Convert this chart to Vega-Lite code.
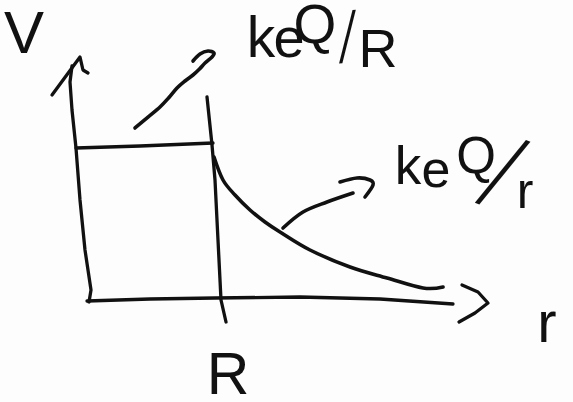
{
  "$schema": "https://vega.github.io/schema/vega-lite/v6.json",
  "description": "Potential V(r) of a charged conducting sphere of radius R: constant ke Q/R inside, falling as ke Q/r outside.",
  "width": 573,
  "height": 402,
  "autosize": "none",
  "padding": 0,
  "background": "#fdfdfd",
  "config": {"view": {"stroke": null}},
  "datasets": {
    "straight": [
      {"part": "v-axis", "i": 0, "r": 0.1, "V": -0.0129},
      {"part": "v-axis", "i": 1, "r": 0.1143, "V": 0.0645},
      {"part": "v-axis", "i": 2, "r": 0.0714, "V": 0.3226},
      {"part": "v-axis", "i": 3, "r": 0.0357, "V": 0.6452},
      {"part": "v-axis", "i": 4, "r": 0.0071, "V": 0.9806},
      {"part": "v-axis", "i": 5, "r": -0.0214, "V": 1.2258},
      {"part": "v-axis", "i": 6, "r": -0.0357, "V": 1.4065},
      {"part": "v-axis", "i": 7, "r": -0.0214, "V": 1.5097},
      {"part": "v-head", "i": 0, "r": -0.1643, "V": 1.3226},
      {"part": "v-head", "i": 1, "r": -0.0643, "V": 1.4452},
      {"part": "v-head", "i": 2, "r": 0.0357, "V": 1.5677},
      {"part": "v-head", "i": 3, "r": 0.0571, "V": 1.4839},
      {"part": "v-head", "i": 4, "r": 0.0929, "V": 1.4645},
      {"part": "r-axis", "i": 0, "r": 0.0857, "V": -0.0065},
      {"part": "r-axis", "i": 1, "r": 0.5357, "V": 0.0065},
      {"part": "r-axis", "i": 2, "r": 1.0, "V": 0.0129},
      {"part": "r-axis", "i": 3, "r": 1.6071, "V": 0.0194},
      {"part": "r-axis", "i": 4, "r": 2.1786, "V": 0.0065},
      {"part": "r-axis", "i": 5, "r": 2.7, "V": -0.0258},
      {"part": "r-head", "i": 0, "r": 2.7643, "V": 0.0968},
      {"part": "r-head", "i": 1, "r": 2.8786, "V": 0.0516},
      {"part": "r-head", "i": 2, "r": 2.95, "V": -0.0194},
      {"part": "r-head", "i": 3, "r": 2.8571, "V": -0.0839},
      {"part": "r-head", "i": 4, "r": 2.7429, "V": -0.1419},
      {"part": "surface", "i": 0, "r": 0.9429, "V": 1.3097},
      {"part": "surface", "i": 1, "r": 0.9786, "V": 1.0},
      {"part": "surface", "i": 2, "r": 1.0, "V": 0.7742},
      {"part": "surface", "i": 3, "r": 1.0214, "V": 0.3871},
      {"part": "surface", "i": 4, "r": 1.0429, "V": 0.0},
      {"part": "surface", "i": 5, "r": 1.0786, "V": -0.1419},
      {"part": "inside", "i": 0, "r": 0.0071, "V": 0.9806},
      {"part": "inside", "i": 1, "r": 0.4643, "V": 0.9935},
      {"part": "inside", "i": 2, "r": 0.9857, "V": 1.0129}
    ],
    "pointerIn": [
      {"i": 0, "r": 0.4286, "V": 1.1097},
      {"i": 1, "r": 0.5214, "V": 1.1806},
      {"i": 2, "r": 0.6071, "V": 1.2452},
      {"i": 3, "r": 0.6714, "V": 1.3065},
      {"i": 4, "r": 0.7286, "V": 1.3677},
      {"i": 5, "r": 0.7857, "V": 1.4129},
      {"i": 6, "r": 0.8429, "V": 1.4516},
      {"i": 7, "r": 0.8893, "V": 1.4903},
      {"i": 8, "r": 0.9286, "V": 1.529},
      {"i": 9, "r": 0.9786, "V": 1.5677},
      {"i": 10, "r": 0.9929, "V": 1.5935},
      {"i": 11, "r": 0.95, "V": 1.6065},
      {"i": 12, "r": 0.8929, "V": 1.5871},
      {"i": 13, "r": 0.8429, "V": 1.5419}
    ],
    "smooth": [
      {"part": "outside", "i": 0, "r": 0.9929, "V": 0.9226},
      {"part": "outside", "i": 1, "r": 1.0571, "V": 0.7742},
      {"part": "outside", "i": 2, "r": 1.1429, "V": 0.6774},
      {"part": "outside", "i": 3, "r": 1.25, "V": 0.5806},
      {"part": "outside", "i": 4, "r": 1.3571, "V": 0.5032},
      {"part": "outside", "i": 5, "r": 1.4643, "V": 0.4387},
      {"part": "outside", "i": 6, "r": 1.6786, "V": 0.3226},
      {"part": "outside", "i": 7, "r": 1.9643, "V": 0.2129},
      {"part": "outside", "i": 8, "r": 2.2286, "V": 0.1419},
      {"part": "outside", "i": 9, "r": 2.4857, "V": 0.0774},
      {"part": "outside", "i": 10, "r": 2.6286, "V": 0.0839},
      {"part": "pointer-out", "i": 0, "r": 1.4857, "V": 0.4645},
      {"part": "pointer-out", "i": 1, "r": 1.6286, "V": 0.5677},
      {"part": "pointer-out", "i": 2, "r": 1.8, "V": 0.6323},
      {"part": "pointer-out", "i": 3, "r": 1.9857, "V": 0.6903},
      {"part": "pointer-out-hook", "i": 0, "r": 1.8929, "V": 0.7613},
      {"part": "pointer-out-hook", "i": 1, "r": 2.0143, "V": 0.7871},
      {"part": "pointer-out-hook", "i": 2, "r": 2.1071, "V": 0.7742},
      {"part": "pointer-out-hook", "i": 3, "r": 2.1286, "V": 0.7419},
      {"part": "pointer-out-hook", "i": 4, "r": 2.0714, "V": 0.6645}
    ],
    "labels": [
      {"role": "axisV", "label": "V", "r": -0.3643, "V": 1.5935},
      {"role": "axisR", "label": "R", "r": 1.0929, "V": -0.6065},
      {"role": "axisr", "label": "r", "r": 3.3714, "V": -0.271},
      {"role": "k1", "label": "k", "r": 1.3286, "V": 1.5677},
      {"role": "e1", "label": "e", "r": 1.5286, "V": 1.5677},
      {"role": "Q1", "label": "Q", "r": 1.7143, "V": 1.6581},
      {"role": "den1", "label": "R", "r": 2.1643, "V": 1.5032},
      {"role": "k2", "label": "k", "r": 2.3786, "V": 0.7484},
      {"role": "e2", "label": "e", "r": 2.5786, "V": 0.729},
      {"role": "Q2", "label": "Q", "r": 2.8643, "V": 0.8194},
      {"role": "den2", "label": "r", "r": 3.2143, "V": 0.5935}
    ],
    "slashes": [
      {"role": "slash1", "label": "/", "r": 1.9464, "V": 1.6903},
      {"role": "slash2", "label": "/", "r": 3.05, "V": 0.8129}
    ]
  },
  "encoding": {
    "x": {"field": "r", "type": "quantitative", "scale": {"domain": [-0.5357, 3.5571], "nice": false, "zero": false}, "axis": null},
    "y": {"field": "V", "type": "quantitative", "scale": {"domain": [-0.6581, 1.9355], "nice": false, "zero": false}, "axis": null}
  },
  "layer": [
    {
      "data": {"name": "straight"},
      "mark": {"type": "line", "color": "#111111", "strokeWidth": 3.3, "strokeCap": "round", "strokeJoin": "round"},
      "encoding": {
        "detail": {"field": "part", "type": "nominal"},
        "order": {"field": "i", "type": "quantitative"}
      }
    },
    {
      "data": {"name": "pointerIn"},
      "mark": {"type": "line", "color": "#111111", "strokeWidth": 3.6, "strokeCap": "round", "strokeJoin": "round", "interpolate": "cardinal"},
      "encoding": {
        "order": {"field": "i", "type": "quantitative"}
      }
    },
    {
      "data": {"name": "smooth"},
      "mark": {"type": "line", "color": "#111111", "strokeWidth": 3.6, "strokeCap": "round", "strokeJoin": "round", "interpolate": "cardinal"},
      "encoding": {
        "detail": {"field": "part", "type": "nominal"},
        "order": {"field": "i", "type": "quantitative"}
      }
    },
    {
      "data": {"name": "labels"},
      "mark": {"type": "text", "color": "#111111", "font": "Liberation Sans", "align": "center", "baseline": "alphabetic"},
      "encoding": {
        "text": {"field": "label", "type": "nominal"},
        "size": {
          "field": "role",
          "type": "nominal",
          "legend": null,
          "scale": {
            "domain": ["axisV", "axisR", "axisr", "k1", "e1", "Q1", "den1", "k2", "e2", "Q2", "den2"],
            "range": [60, 50, 46, 58, 28, 40, 40, 66, 28, 48, 38]
          }
        }
      }
    },
    {
      "data": {"name": "slashes"},
      "transform": [{"filter": "datum.role === 'slash1'"}],
      "mark": {"type": "text", "color": "#111111", "font": "DejaVu Sans", "fontWeight": 300, "align": "center", "baseline": "middle", "fontSize": 64, "angle": -3},
      "encoding": {"text": {"field": "label", "type": "nominal"}}
    },
    {
      "data": {"name": "slashes"},
      "transform": [{"filter": "datum.role === 'slash2'"}],
      "mark": {"type": "text", "color": "#111111", "font": "DejaVu Sans", "fontWeight": 300, "align": "center", "baseline": "middle", "fontSize": 94, "angle": 22},
      "encoding": {"text": {"field": "label", "type": "nominal"}}
    }
  ]
}
